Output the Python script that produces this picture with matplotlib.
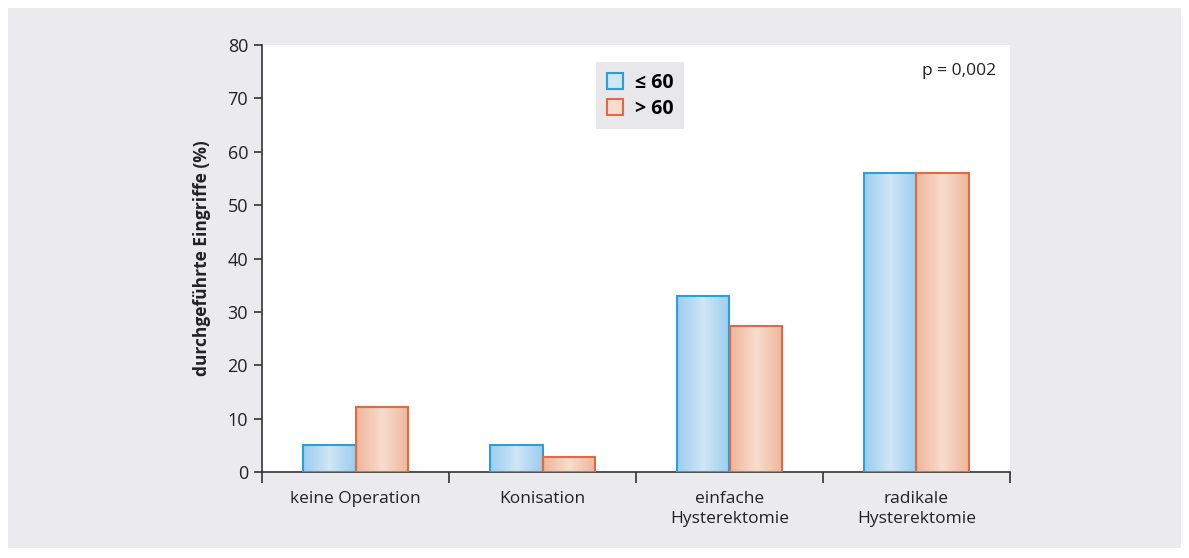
import matplotlib.pyplot as plt
import numpy as np
from matplotlib.patches import Rectangle, Patch
from matplotlib.colors import LinearSegmentedColormap

plt.rcParams['font.family'] = ['Open Sans', 'DejaVu Sans']

categories = ['keine Operation', 'Konisation', 'einfache\nHysterektomie', 'radikale\nHysterektomie']
le60 = [5.0, 5.0, 32.9, 56.1]
gt60 = [12.2, 2.8, 27.3, 56.1]
series_labels = ['≤ 60', '> 60']

blue_edge = '#2a9fd8'
blue_dark = '#9ccdee'
blue_light = '#cfe6f6'
orange_edge = '#e06a42'
orange_dark = '#efb69b'
orange_light = '#f8dccd'

fig = plt.figure(figsize=(11.89, 5.58), dpi=100)
fig.patch.set_facecolor('white')
fig.patches.append(Rectangle((8 / 1189, 10 / 558), 1173 / 1189, 540 / 558,
                             transform=fig.transFigure, facecolor='#ebebed',
                             edgecolor='none', zorder=-10))

ax = fig.add_axes([262 / 1189, 1 - 472 / 558, 748 / 1189, 427 / 558])
ax.set_facecolor('white')

x = np.arange(len(categories))
w = 0.283


def grad_bar(xc, h, dark, light, edge):
    bars = ax.bar(xc, h, width=w, facecolor='none', edgecolor=edge, linewidth=1.5, zorder=3)
    b = bars[0]
    t = np.linspace(-1, 1, 100)
    vals = 1 - np.abs(t)
    cmap = LinearSegmentedColormap.from_list('g', [dark, light])
    im = ax.imshow(vals[np.newaxis, :], cmap=cmap, aspect='auto',
                   extent=[xc - w / 2, xc + w / 2, 0, h], zorder=2, vmin=0, vmax=1)
    im.set_clip_path(b)


for i in range(len(categories)):
    grad_bar(x[i] - w / 2, le60[i], blue_dark, blue_light, blue_edge)
    grad_bar(x[i] + w / 2, gt60[i], orange_dark, orange_light, orange_edge)

ax.set_xlim(-0.5, len(categories) - 0.5)
ax.set_ylim(0, 80)
ax.set_yticks(np.arange(0, 81, 10))
ax.set_xticks(x)
ax.set_xticklabels(categories, fontsize=12.5, color='#222222', linespacing=1.3)
ax.set_xticks(np.arange(-0.5, len(categories), 1), minor=True)
ax.tick_params(axis='x', which='major', length=0, pad=14)
ax.tick_params(axis='x', which='minor', length=8, width=1.2, color='#333333')
ax.tick_params(axis='y', length=6, width=1.2, color='#333333', labelsize=13,
               labelcolor='#222222', pad=4)
for s in ['top', 'right']:
    ax.spines[s].set_visible(False)
for s in ['left', 'bottom']:
    ax.spines[s].set_linewidth(1.2)
    ax.spines[s].set_color('#333333')

ax.set_ylabel('durchgeführte Eingriffe (%)', fontsize=12.5, fontweight='bold',
              color='#222222', labelpad=12)

handles = [Patch(facecolor=blue_light, edgecolor=blue_edge, linewidth=1.5),
           Patch(facecolor=orange_light, edgecolor=orange_edge, linewidth=1.5)]
leg = ax.legend(handles, series_labels, loc='upper left',
                bbox_to_anchor=((596 - 262) / 748, (472 - 62) / 427),
                borderaxespad=0, frameon=True, fancybox=False,
                handlelength=0.85, handleheight=0.85,
                handletextpad=0.6, borderpad=0.55, labelspacing=0.3,
                prop={'weight': 'bold', 'size': 14})
leg.get_frame().set_facecolor('#e8e8ea')
leg.get_frame().set_edgecolor('none')
leg.get_frame().set_alpha(1)

ax.text(0.982, 0.94, 'p = 0,002', transform=ax.transAxes, ha='right', va='center',
        fontsize=12.5, color='#222222')

fig.savefig('out.png', dpi=100, facecolor=fig.get_facecolor())
